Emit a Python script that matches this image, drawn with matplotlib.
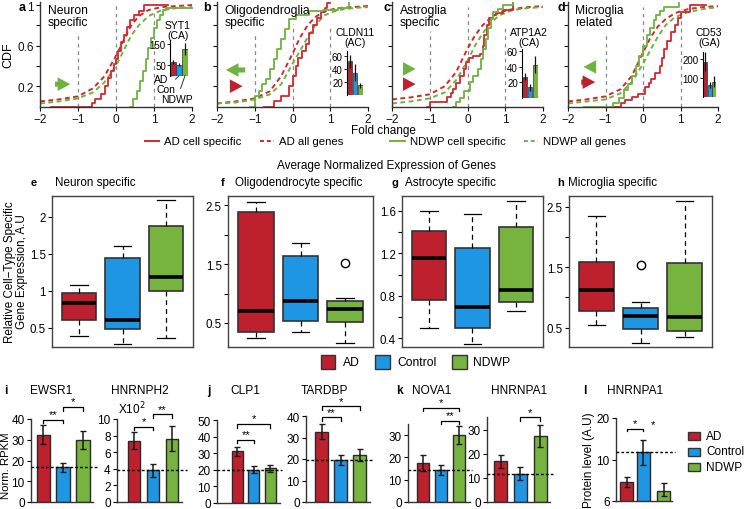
import matplotlib
matplotlib.use("Agg")
import matplotlib.pyplot as plt
import numpy as np
from matplotlib.patches import Rectangle, FancyArrowPatch
from matplotlib.lines import Line2D

plt.rcParams['font.family'] = ['Liberation Sans', 'DejaVu Sans']
plt.rcParams['axes.linewidth'] = 1.0

W, H = 745, 510
fig = plt.figure(figsize=(7.45, 5.10), dpi=100)

# ---------------- colours ----------------
RED = '#BE202E'
BLUE = '#1F96E3'
GREEN = '#77B43F'
CRED = '#D6262E'
CGREEN = '#6DB33F'
GROUP_COLORS = [RED, BLUE, GREEN]

# ---------------- data: CDF panels (a-d) ----------------
cdf_titles = ["Neuron\nspecific", "Oligodendroglia\nspecific", "Astroglia\nspecific", "Microglia\nrelated"]
cdf_letters = ["a", "b", "c", "d"]

# AD cell specific (step curves: fold change, CDF)
ad_cell_x = [
    [-1.7, -0.62, -0.55, -0.4, -0.3, -0.2, -0.13, -0.05, 0.0, 0.05, 0.13, 0.2, 0.3, 0.38, 0.48, 0.6, 0.75, 1.36],
    [-0.75, -0.5, -0.3, -0.1, 0.0, 0.08, 0.15, 0.25, 0.35, 0.45, 0.55, 0.65, 0.75, 0.85, 0.92, 1.0],
    [-1.08, -1.0, -0.55, -0.45, -0.38, -0.3, -0.2, -0.1, -0.03, 0.05, 0.15, 0.33, 0.4, 0.45, 0.52, 0.58, 0.68, 0.76, 0.94, 1.2],
    [-0.82, -0.6, -0.47, -0.3, -0.13, 0.04, 0.15, 0.22, 0.32, 0.44, 0.5, 0.57, 0.65, 0.75, 0.85, 0.93, 1.0, 1.24, 1.68],
]
ad_cell_y = [
    [0.0, 0.03, 0.07, 0.12, 0.2, 0.28, 0.35, 0.42, 0.47, 0.55, 0.64, 0.7, 0.78, 0.85, 0.9, 0.94, 1.0, 1.0],
    [0.0, 0.05, 0.1, 0.2, 0.3, 0.4, 0.48, 0.55, 0.62, 0.72, 0.8, 0.87, 0.93, 0.97, 1.02, 1.02],
    [0.0, 0.04, 0.09, 0.13, 0.17, 0.23, 0.3, 0.37, 0.44, 0.48, 0.5, 0.52, 0.6, 0.7, 0.8, 0.87, 0.9, 0.92, 0.95, 1.02],
    [0.0, 0.03, 0.06, 0.09, 0.12, 0.19, 0.23, 0.27, 0.33, 0.4, 0.48, 0.57, 0.65, 0.73, 0.8, 0.87, 0.93, 1.0, 1.0],
]
# NDWP cell specific
nd_cell_x = [
    [0.36, 0.45, 0.55, 0.62, 0.7, 0.78, 0.85, 0.92, 1.0, 1.08, 1.15, 1.25, 1.32, 2.0],
    [-1.12, -1.0, -0.9, -0.8, -0.7, -0.6, -0.5, -0.4, -0.3, -0.2, -0.1, 0.1, 0.45, 0.8, 1.2, 1.5],
    [-0.38, -0.3, -0.2, -0.1, 0.06, 0.15, 0.28, 0.35, 0.41, 0.48, 0.55, 0.62, 0.68, 0.8, 0.94, 1.2],
    [-1.57, -0.8, -0.65, -0.5, -0.4, -0.3, -0.2, -0.1, 0.0, 0.1, 0.18, 0.28, 0.35, 0.45, 0.57, 0.97],
]
nd_cell_y = [
    [0.0, 0.07, 0.15, 0.25, 0.35, 0.47, 0.58, 0.68, 0.77, 0.85, 0.9, 0.95, 0.97, 0.97],
    [0.0, 0.1, 0.15, 0.22, 0.27, 0.37, 0.47, 0.57, 0.67, 0.76, 0.86, 0.9, 0.94, 0.95, 0.97, 1.02],
    [0.0, 0.04, 0.08, 0.15, 0.24, 0.3, 0.37, 0.47, 0.57, 0.67, 0.77, 0.86, 0.93, 0.96, 1.0, 1.02],
    [0.0, 0.03, 0.08, 0.16, 0.22, 0.3, 0.4, 0.5, 0.6, 0.7, 0.77, 0.85, 0.9, 0.94, 0.98, 1.02],
]
# all genes (smooth curves)
all_x = [-2, -1.5, -1, -0.6, -0.3, 0, 0.2, 0.4, 0.6, 0.85, 1.2, 1.6, 2]
ad_all_y = [
    [0.05, 0.07, 0.1, 0.18, 0.3, 0.5, 0.65, 0.8, 0.89, 0.95, 0.98, 0.99, 1.0],
    [0.03, 0.05, 0.08, 0.15, 0.3, 0.52, 0.68, 0.8, 0.88, 0.94, 0.97, 0.98, 0.99],
    [0.07, 0.09, 0.12, 0.2, 0.34, 0.57, 0.7, 0.8, 0.87, 0.93, 0.96, 0.98, 0.99],
    [0.05, 0.07, 0.1, 0.17, 0.3, 0.53, 0.68, 0.79, 0.86, 0.92, 0.96, 0.98, 0.99],
]
nd_all_y = [
    [0.03, 0.05, 0.08, 0.14, 0.24, 0.4, 0.55, 0.7, 0.8, 0.89, 0.95, 0.97, 0.98],
    [0.03, 0.04, 0.07, 0.12, 0.22, 0.42, 0.55, 0.68, 0.8, 0.9, 0.95, 0.97, 0.98],
    [0.03, 0.05, 0.08, 0.14, 0.26, 0.45, 0.6, 0.72, 0.82, 0.9, 0.95, 0.97, 0.98],
    [0.03, 0.05, 0.07, 0.13, 0.24, 0.42, 0.56, 0.69, 0.8, 0.88, 0.93, 0.96, 0.98],
]
# inset bar charts (AD, Con, NDWP)
inset_titles = ["SYT1\n(CA)", "CLDN11\n(AC)", "ATP1A2\n(CA)", "CD53\n(GA)"]
inset_vals = [[66, 52, 126], [52, 34, 15], [27, 13, 42], [186, 63, 80]]
inset_errs = [[10, 8, 30], [10, 13, 4], [5, 4, 11], [50, 15, 28]]
inset_ticks = [[50, 150], [20, 40, 60], [20, 40, 60], [100, 200]]

# ---------------- data: box plots (e-h) ----------------
box_titles = ["Neuron specific", "Oligodendrocyte specific", "Astrocyte specific", "Microglia specific"]
box_letters = ["e", "f", "g", "h"]
box_whislo = [[0.39, 0.28, 0.36], [0.24, 0.34, 0.16], [0.50, 0.35, 0.66], [0.55, 0.25, 0.35]]
box_q1 = [[0.60, 0.48, 1.00], [0.34, 0.53, 0.52], [0.76, 0.50, 0.74], [0.78, 0.47, 0.45]]
box_med = [[0.84, 0.60, 1.18], [0.71, 0.88, 0.74], [1.16, 0.70, 0.86], [1.13, 0.70, 0.67]]
box_q3 = [[0.97, 1.44, 1.88], [2.38, 1.64, 0.88], [1.41, 1.25, 1.45], [1.58, 0.83, 1.57]]
box_whishi = [[1.08, 1.61, 2.22], [2.56, 1.86, 0.93], [1.60, 1.57, 1.69], [2.35, 0.92, 2.60]]
box_fliers = [[[], [], []], [[], [], [1.52]], [[], [], []], [[], [1.54], []]]

# ---------------- data: bar charts (i-l) ----------------
groups = ["AD", "Control", "NDWP"]
bar_genes = ["EWSR1", "HNRNPH2", "CLP1", "TARDBP", "NOVA1", "HNRNPA1", "HNRNPA1"]
bar_vals = [
    [32.4, 16.7, 29.9],
    [7.4, 3.8, 7.6],
    [31.1, 20.0, 20.9],
    [32.7, 19.5, 22.0],
    [17.5, 14.3, 30.1],
    [17.0, 11.7, 27.6],
    [7.85, 11.9, 7.0],
]
bar_err_lo = [
    [4.6, 2.2, 4.2],
    [1.0, 0.8, 1.5],
    [2.5, 2.2, 2.2],
    [3.6, 2.5, 2.7],
    [3.5, 2.2, 4.1],
    [2.7, 2.7, 4.5],
    [0.5, 2.4, 0.5],
]
bar_err_hi = [
    [4.6, 2.2, 4.2],
    [1.0, 0.8, 1.5],
    [2.4, 2.3, 2.2],
    [3.6, 2.5, 2.7],
    [3.5, 2.2, 4.1],
    [2.7, 2.7, 4.5],
    [0.45, 2.9, 0.75],
]
bar_yticks = [[0, 10, 20, 30, 40], [0, 2, 4, 6, 8, 10], [0, 10, 20, 30, 40, 50],
              [0, 10, 20, 30, 40], [0, 10, 20, 30], [0, 10, 20, 30], [6, 10, 20]]
bar_ylims = [(0, 40), (0, 10), (0, 50), (0, 40), (0, 35), (0, 35.4), (6, 20)]
# significance: (group i, group j, bracket height, label)
bar_sig = [
    [(0, 1, 39.7, "**"), (1, 2, 45.8, "*")],
    [(0, 1, 9.07, "*"), (1, 2, 10.6, "**")],
    [(0, 1, 38.1, "**"), (0, 2, 47.6, "*")],
    [(0, 1, 39.4, "**"), (0, 2, 44.5, "*")],
    [(0, 2, 42.4, "*"), (1, 2, 36.4, "**")],
    [(1, 2, 35.3, "*")],
    [(0, 1, 17.5, "*")],
]


# ---------------- helpers ----------------
def ax_px(x0, y0, x1, y1, **kw):
    return fig.add_axes([x0 / W, 1 - y1 / H, (x1 - x0) / W, (y1 - y0) / H], **kw)


def ftext(x, y, s, **kw):
    return fig.text(x / W, 1 - y / H, s, **kw)


# ======================= top row: CDFs =======================
cdf_rects = [(40, 3, 192, 107.5), (217, 3, 368, 107.5), (392, 3, 543, 107.5), (568, 3, 718, 107.5)]
vline_ymax = [(0.69, 0.99, 0.91), (0.69, 0.79, 0.77), (0.72, 0.95, 0.77), (0.71, 0.95, 0.93)]
# arrows: (color, x_start, x_end, y)
arrows = [
    [(CGREEN, -1.68, -1.13, 0.22)],
    [(CGREEN, -1.18, -1.84, 0.36), (RED, -1.62, -1.25, 0.2)],
    [(CGREEN, -1.68, -1.3, 0.37), (RED, -1.68, -1.3, 0.22)],
    [(CGREEN, -1.34, -1.66, 0.39), (RED, -1.72, -1.2, 0.24)],
]
inset_rects = [(170, 41, 188, 76.5), (347, 52, 363, 96), (522, 50, 538, 98.5), (703, 53, 716, 98)]
inset_ylims = [(0, 170), (0, 67.7), (0, 62.6), (0, 237)]
inset_title_pos = [(178, 31), (355, 38), (529, 38), (709, 38)]
letter_x = [19, 203, 383, 558]

for k in range(4):
    ax = ax_px(*cdf_rects[k])
    ax.set_xlim(-2, 2)
    ax.set_ylim(0, 1.03)
    for s in ['top', 'right']:
        ax.spines[s].set_visible(False)
    ax.spines['left'].set_color('#333333')
    ax.spines['bottom'].set_color('#333333')
    ax.set_xticks([-2, -1, 0, 1, 2])
    ax.set_xticklabels(['\u22122', '\u22121', '0', '1', '2'])
    ax.set_yticks([0.2, 0.4, 0.6, 0.8, 1.0])
    if k == 0:
        ax.set_yticklabels(['0.2', '', '0.6', '', '1'])
        ax.set_ylabel('CDF', fontsize=9, labelpad=2)
    else:
        ax.set_yticklabels([])
    ax.tick_params(labelsize=8.5, length=3, width=0.8, pad=1.5, colors='#111111')
    for xv, ym in zip([-1, 0, 1], vline_ymax[k]):
        ax.axvline(xv, ymin=0, ymax=ym, color='#888888', lw=0.9, ls=(0, (3, 3)))
    ax.plot(all_x, ad_all_y[k], color=CRED, lw=1.4, ls=(0, (2.5, 1.8)))
    ax.plot(all_x, nd_all_y[k], color=CGREEN, lw=1.4, ls=(0, (2.5, 1.8)))
    ax.step(ad_cell_x[k], ad_cell_y[k], where='post', color=CRED, lw=1.3, clip_on=False)
    ax.step(nd_cell_x[k], nd_cell_y[k], where='post', color=CGREEN, lw=1.3, clip_on=False)
    for col, xs, xe, yv in arrows[k]:
        ax.add_patch(FancyArrowPatch((xs, yv), (xe, yv),
                                     arrowstyle='simple,head_length=0.7,head_width=0.75,tail_width=0.28',
                                     mutation_scale=13, color=col, lw=0))
    ax.text(0.05, 0.985, cdf_titles[k], transform=ax.transAxes, fontsize=8.7, va='top', ha='left',
            linespacing=1.05)
    ftext(letter_x[k], 2, cdf_letters[k], fontsize=9, fontweight='bold', va='top', ha='left')

    # inset bar chart
    ia = ax_px(*inset_rects[k])
    ia.bar([0, 1, 2], inset_vals[k], width=0.9, color=GROUP_COLORS, edgecolor='#333333', lw=0.5)
    ia.errorbar([0, 1, 2], inset_vals[k], yerr=inset_errs[k], fmt='none', ecolor='#111111',
                elinewidth=0.9, capsize=0)
    ia.set_xlim(-0.55, 2.5)
    ia.set_ylim(*inset_ylims[k])
    ia.patch.set_alpha(0)
    for s in ['top', 'right', 'bottom']:
        ia.spines[s].set_visible(False)
    ia.spines['left'].set_linewidth(0.8)
    ia.set_xticks([])
    ia.set_yticks(inset_ticks[k])
    ia.tick_params(labelsize=7, length=2, width=0.6, pad=1)
    tx, ty = inset_title_pos[k]
    ftext(tx, ty, inset_titles[k], fontsize=7.5, ha='center', va='center', linespacing=1.1)
    if k == 0:
        for lab, bi, (lx, ly) in zip(["AD", "Con", "NDWP"], [0, 1, 2],
                                     [(161, 80), (166, 90), (177, 100)]):
            ia.annotate(lab, xy=(bi, 0), xycoords='data', xytext=(lx, H - ly),
                        textcoords='figure pixels', fontsize=7.5, ha='center', va='center',
                        arrowprops=dict(arrowstyle='-', color='#333333', lw=0.7, shrinkA=2, shrinkB=0))

# top legend
ftext(383, 131, 'Fold change', fontsize=8.5, ha='center', va='center')
leg_items = [(145, 159, CRED, '-', 'AD cell specific'), (260, 274, CRED, ':', 'AD all genes'),
             (390, 405, CGREEN, '-', 'NDWP cell specific'), (524, 538, CGREEN, ':', 'NDWP all genes')]
for x0, x1, c, ls, lab in leg_items:
    fig.add_artist(Line2D([x0 / W, x1 / W], [1 - 142 / H, 1 - 142 / H], color=c, lw=1.4,
                          ls=ls if ls == '-' else (0, (2, 1.5)), transform=fig.transFigure))
    ftext(x1 + 5, 142, lab, fontsize=8.2, ha='left', va='center')

ftext(386, 166, 'Average Normalized Expression of Genes', fontsize=8.5, ha='center', va='center')

# ======================= middle row: box plots =======================
box_rects = [(52, 197, 193, 348), (228, 197, 373, 348), (402, 197, 543, 348), (569, 197, 712, 348)]
box_ylims = [(0.24, 2.28), (0.09, 2.66), (0.32, 1.74), (0.18, 2.68)]
box_yticks = [[0.5, 1, 1.5, 2], [0.5, 1, 1.5, 2, 2.5], [0.4, 0.6, 0.8, 1.0, 1.2, 1.4, 1.6], [0.5, 1, 1.5, 2, 2.5]]
box_yticklabels = [['0.5', '1', '1.5', '2'], ['0.5', '', '1.5', '', '2.5'],
                   ['0.4', '', '0.8', '', '1.2', '', '1.6'], ['0.5', '', '1.5', '', '2.5']]
box_letter_x = [31, 221, 392, 557]
box_title_x = [55, 235, 405, 568]

for k in range(4):
    ax = ax_px(*box_rects[k])
    stats = []
    for g in range(3):
        stats.append(dict(whislo=box_whislo[k][g], q1=box_q1[k][g], med=box_med[k][g],
                          q3=box_q3[k][g], whishi=box_whishi[k][g], fliers=box_fliers[k][g]))
    bp = ax.bxp(stats, positions=[1, 2, 3], widths=0.8, patch_artist=True, capwidths=0.4,
                boxprops=dict(edgecolor='#333333', lw=1.2),
                medianprops=dict(color='black', lw=2.6, solid_capstyle='butt'),
                whiskerprops=dict(color='black', lw=0.9, ls=(0, (4, 3))),
                capprops=dict(color='black', lw=0.9),
                flierprops=dict(marker='o', mfc='none', mec='black', ms=6, mew=1.0))
    for patch, c in zip(bp['boxes'], GROUP_COLORS):
        patch.set_facecolor(c)
    ax.set_xlim(0.38, 3.62)
    ax.set_ylim(*box_ylims[k])
    ax.set_xticks([])
    ax.set_yticks(box_yticks[k])
    ax.set_yticklabels(box_yticklabels[k])
    ax.tick_params(labelsize=8.3, length=3, width=0.8, pad=1.5)
    for s in ax.spines.values():
        s.set_color('#444444')
        s.set_linewidth(1.0)
    ftext(box_letter_x[k], 183, box_letters[k], fontsize=8, fontweight='bold', ha='left', va='center')
    ftext(box_title_x[k], 183, box_titles[k], fontsize=8.4, ha='left', va='center')

ftext(16, 272, 'Relative Cell\u2212Type Specific\nGene Expression, A.U', fontsize=8.4,
      rotation=90, ha='center', va='center', linespacing=1.1)

# middle legend
for (x0, x1), c, lab, tx in zip([(321, 335), (375, 390), (452, 467)], GROUP_COLORS, groups, [343, 397, 473]):
    fig.add_artist(Rectangle((x0 / W, 1 - 370 / H), (x1 - x0) / W, 14 / H, facecolor=c,
                             edgecolor='#333333', lw=1.0, transform=fig.transFigure))
    ftext(tx, 363, lab, fontsize=8.7, ha='left', va='center')

# ======================= bottom row: bar charts =======================
bar_rects = [(31, 420, 93, 503), (117, 420, 182, 503), (217, 421, 280, 504), (306, 417, 370, 503),
             (408, 425, 470, 503), (487, 418, 550, 503), (616, 419, 672, 502)]
bar_xlims = [(-0.62, 2.5), (-0.89, 2.52), (-1.24, 2.58), (-0.82, 2.55), (-0.82, 2.6), (-0.69, 2.5), (-0.62, 2.68)]
bar_widths = [0.68, 0.63, 0.67, 0.68, 0.66, 0.67, 0.76]
bar_pos = [[0, 1, 2]] * 6 + [[0, 1, 2.2]]
bar_title_x = [51, 140, 245, 324, 432, 519, 635]
line_ext = [0.3, 0.25, 0.1, 0.2, 0.1, 0.2, 0.2]


def l_fwd(v):
    v = np.asarray(v, dtype=float)
    return np.interp(v, [-1000, 6, 10, 20, 1000], [-10.25 * 1006, 0, 41, 83, 83 + 4.2 * 980])


def l_inv(p):
    p = np.asarray(p, dtype=float)
    return np.interp(p, [-10.25 * 1006, 0, 41, 83, 83 + 4.2 * 980], [-1000, 6, 10, 20, 1000])


for k in range(7):
    ax = ax_px(*bar_rects[k])
    if k == 6:
        ax.set_yscale('function', functions=(l_fwd, l_inv))
    pos = bar_pos[k]
    ax.bar(pos, bar_vals[k], width=bar_widths[k], color=GROUP_COLORS, edgecolor='#2a2a2a', lw=1.0)
    ax.errorbar(pos, bar_vals[k], yerr=[bar_err_lo[k], bar_err_hi[k]], fmt='none', ecolor='#1a1a1a',
                elinewidth=1.1, capsize=2.5, capthick=1.0)
    ax.set_xlim(*bar_xlims[k])
    ax.set_ylim(*bar_ylims[k])
    ax.set_yticks(bar_yticks[k])
    ax.set_yticklabels([str(t) for t in bar_yticks[k]])
    ax.minorticks_off()
    ax.set_xticks([])
    for s in ['top', 'right']:
        ax.spines[s].set_visible(False)
    ax.spines['left'].set_color('#333333')
    ax.spines['bottom'].set_color('#333333')
    ax.tick_params(labelsize=8.5, length=3, width=0.8, pad=1.5)
    ctrl = bar_vals[k][1]
    xl = bar_xlims[k]
    ax.plot([xl[0], xl[1] + line_ext[k]], [ctrl, ctrl], color='black', lw=1.0, ls=(0, (2, 1.5)),
            clip_on=False, zorder=5)
    rng = bar_ylims[k][1] - bar_ylims[k][0]
    for gi, gj, hy, lab in bar_sig[k]:
        drop = rng * 0.045
        ax.plot([pos[gi], pos[gi], pos[gj], pos[gj]], [hy - drop, hy, hy, hy - drop], color='black',
                lw=0.9, clip_on=False)
        ax.text((pos[gi] + pos[gj]) / 2, hy + rng * 0.005, lab, ha='center', va='bottom', fontsize=8,
                clip_on=False)
    if k == 6:
        ax.text(1.56, 17.4, '*', ha='center', va='bottom', fontsize=8, clip_on=False)
    ftext(bar_title_x[k], 391, bar_genes[k], fontsize=8.6, ha='center', va='center')

ftext(118, 409, 'X10$^{2}$', fontsize=8.5, ha='left', va='center')
for lx, lab in zip([4, 207, 396, 583], ['i', 'j', 'k', 'l']):
    ftext(lx, 391, lab, fontsize=8.5, fontweight='bold', ha='left', va='center')
ftext(6, 466, 'Norm. RPKM', fontsize=8.2, rotation=90, ha='center', va='center')
ftext(589, 460, 'Protein level (A.U)', fontsize=8.5, rotation=90, ha='center', va='center')

# bottom-right legend
for c, lab, yc in zip(GROUP_COLORS, groups, [437, 452.5, 468]):
    fig.add_artist(Rectangle((688 / W, 1 - (yc + 4) / H), 12 / W, 8 / H, facecolor=c,
                             edgecolor='#333333', lw=1.0, transform=fig.transFigure))
    ftext(706, yc, lab, fontsize=8.5, ha='left', va='center')

fig.savefig('out.png', dpi=100)
